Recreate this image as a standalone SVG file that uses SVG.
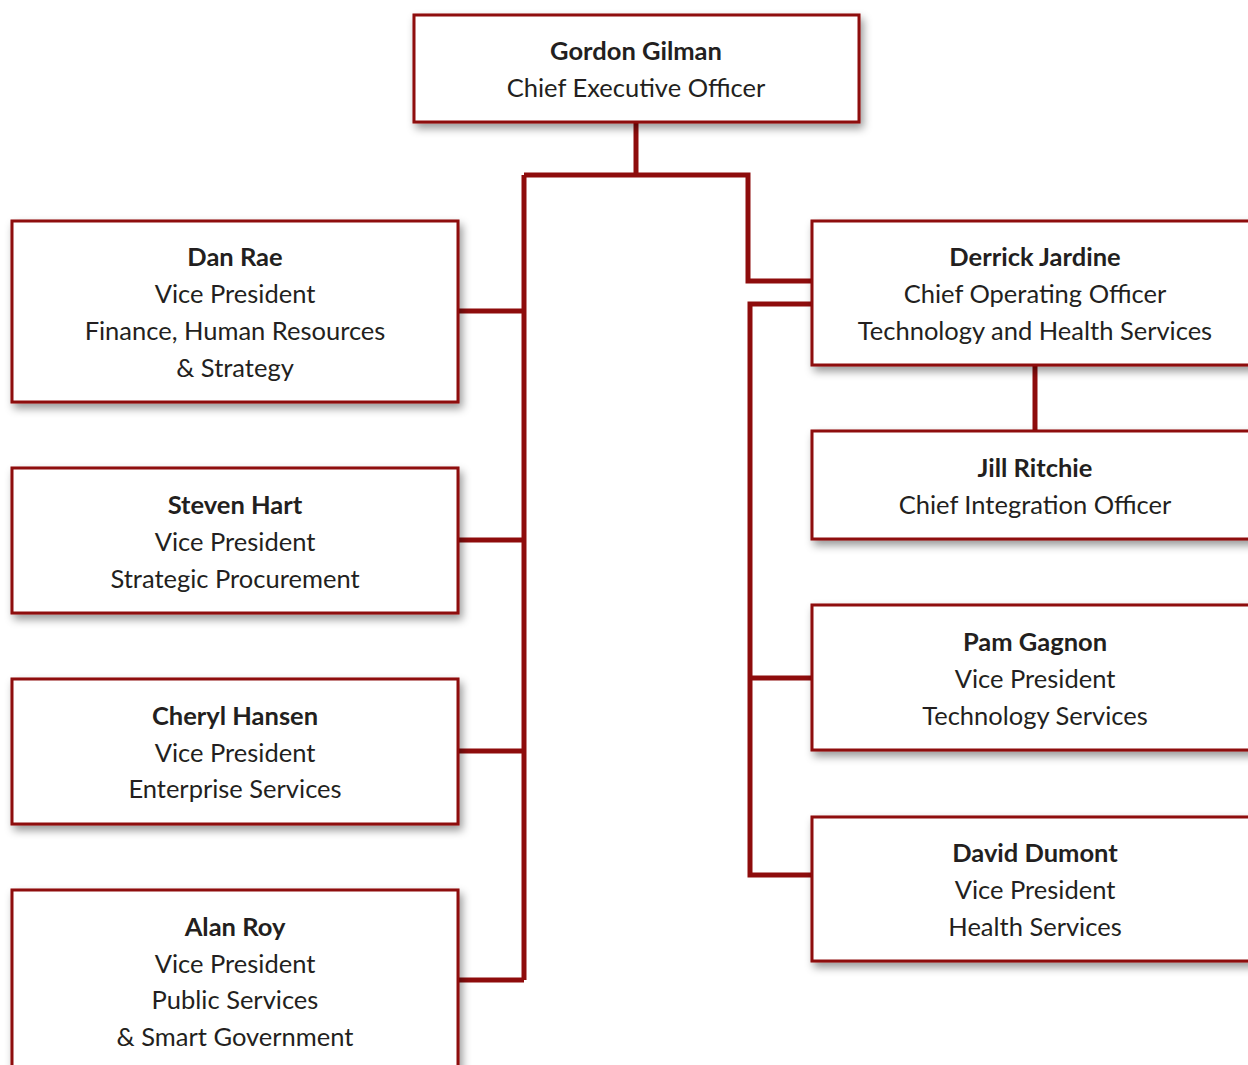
<svg xmlns="http://www.w3.org/2000/svg" width="1248" height="1065" viewBox="0 0 1248 1065">
  <defs>
    <filter id="shadow" x="-10%" y="-10%" width="130%" height="140%">
      <feDropShadow dx="3" dy="5" stdDeviation="4" flood-color="#000" flood-opacity="0.4"/>
    </filter>
  </defs>
  <style>
    .box { fill: #ffffff; stroke: #8e0c0c; stroke-width: 3; filter: url(#shadow); }
    .link { fill: none; stroke: #8e0c0c; stroke-width: 5; stroke-linejoin: miter; }
    text { font-family: Lato, "Liberation Sans", sans-serif; font-size: 25.5px; fill: #231f20; text-anchor: middle; }
    .name { font-weight: bold; }
  </style>

  <!-- reporting lines -->
  <g id="connectors">
    <path class="link" d="M636,122 V175"/>
    <path class="link" d="M524,175 H748 V281 H812"/>
    <path class="link" d="M524,175 V980"/>
    <path class="link" d="M458,311 H524"/>
    <path class="link" d="M458,540 H524"/>
    <path class="link" d="M458,751 H524"/>
    <path class="link" d="M458,980 H524"/>
    <path class="link" d="M812,304 H750 V875 H812"/>
    <path class="link" d="M750,678 H812"/>
    <path class="link" d="M1035,365 V431"/>
  </g>

  <g id="ceo">
    <rect class="box" x="414" y="15" width="445" height="107"/>
    <text x="636" y="60" class="name">Gordon Gilman</text>
    <text x="636" y="97">Chief Executive Officer</text>
  </g>

  <g id="dan-rae">
    <rect class="box" x="12" y="221" width="446" height="181"/>
    <text x="235" y="266" class="name">Dan Rae</text>
    <text x="235" y="303">Vice President</text>
    <text x="235" y="340">Finance, Human Resources</text>
    <text x="235" y="377">&amp; Strategy</text>
  </g>

  <g id="steven-hart">
    <rect class="box" x="12" y="468" width="446" height="145"/>
    <text x="235" y="514" class="name">Steven Hart</text>
    <text x="235" y="551">Vice President</text>
    <text x="235" y="588">Strategic Procurement</text>
  </g>

  <g id="cheryl-hansen">
    <rect class="box" x="12" y="679" width="446" height="145"/>
    <text x="235" y="725" class="name">Cheryl Hansen</text>
    <text x="235" y="762">Vice President</text>
    <text x="235" y="798">Enterprise Services</text>
  </g>

  <g id="alan-roy">
    <rect class="box" x="12" y="890" width="446" height="185"/>
    <text x="235" y="936" class="name">Alan Roy</text>
    <text x="235" y="973">Vice President</text>
    <text x="235" y="1009">Public Services</text>
    <text x="235" y="1046">&amp; Smart Government</text>
  </g>

  <g id="derrick-jardine">
    <rect class="box" x="812" y="221" width="446" height="144"/>
    <text x="1035" y="266" class="name">Derrick Jardine</text>
    <text x="1035" y="303">Chief Operating Officer</text>
    <text x="1035" y="340">Technology and Health Services</text>
  </g>

  <g id="jill-ritchie">
    <rect class="box" x="812" y="431" width="446" height="108"/>
    <text x="1035" y="477" class="name">Jill Ritchie</text>
    <text x="1035" y="514">Chief Integration Officer</text>
  </g>

  <g id="pam-gagnon">
    <rect class="box" x="812" y="605" width="446" height="145"/>
    <text x="1035" y="651" class="name">Pam Gagnon</text>
    <text x="1035" y="688">Vice President</text>
    <text x="1035" y="725">Technology Services</text>
  </g>

  <g id="david-dumont">
    <rect class="box" x="812" y="817" width="446" height="144"/>
    <text x="1035" y="862" class="name">David Dumont</text>
    <text x="1035" y="899">Vice President</text>
    <text x="1035" y="936">Health Services</text>
  </g>
</svg>
